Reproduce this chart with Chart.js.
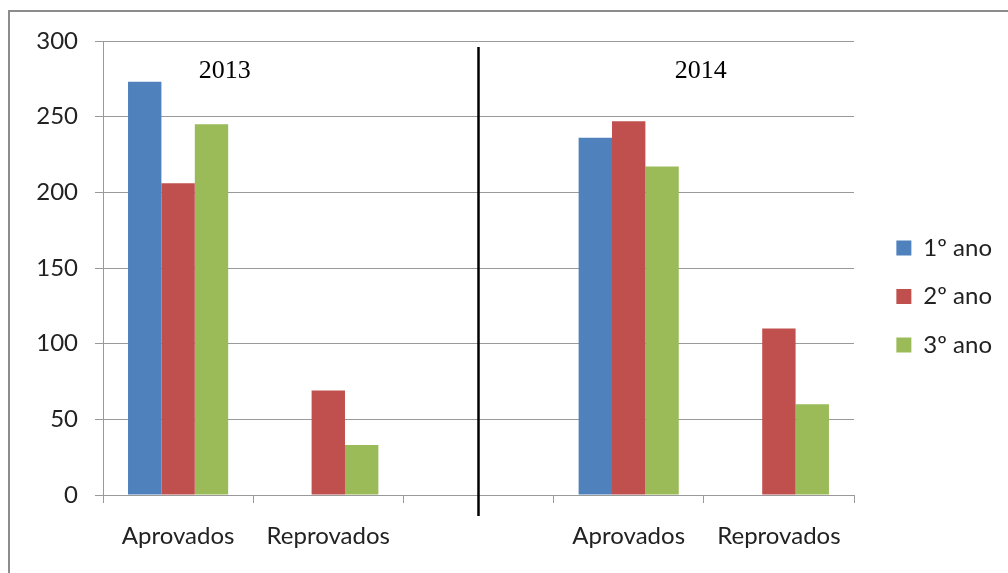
<!DOCTYPE html>
<html>
<head>
<meta charset="utf-8">
<script src="https://cdn.jsdelivr.net/npm/chart.js@4/dist/chart.umd.min.js"></script>
<style>
  html, body { margin: 0; padding: 0; background: #fff; overflow: hidden; }
  #wrap { position: relative; width: 1008px; height: 573px; overflow: hidden; }
  #frame { position: absolute; left: 8px; top: 10px; width: 1200px; height: 800px; border: 2px solid #8c8c8c; box-sizing: border-box; }
  canvas { position: absolute; left: 0; top: 0; }
</style>
</head>
<body>
<div id="wrap">
  <div id="frame"></div>
  <canvas id="c" width="1008" height="573"></canvas>
</div>
<script>
// ---- data ----
const categories = ['Aprovados', 'Reprovados', '', 'Aprovados', 'Reprovados'];
const seriesNames = ['1º ano', '2º ano', '3º ano'];
const ano1 = [273, 0, null, 236, 0];
const ano2 = [206, 69, null, 247, 110];
const ano3 = [245, 33, null, 217, 60];
const yTicks = [0, 50, 100, 150, 200, 250, 300];
const yearLabels = ['2013', '2014'];
const yearLabelPos = [0.31, 3.48];   // category-index positions of the year captions
const dividerIndex = 2;              // empty category holding the divider line

const colors = ['#4F81BD', '#C0504D', '#9BBB59'];
const gridColor = '#9a9a9a';
const labelFont = 'Lato, "Open Sans", sans-serif';

const annot = {
  id: 'annot',
  afterDatasetsDraw(chart) {
    const {ctx, scales: {x, y}} = chart;
    ctx.save();
    // divider
    const dx = Math.round(x.getPixelForValue(dividerIndex)) - 0.5;
    ctx.strokeStyle = '#000';
    ctx.lineWidth = 2.5;
    ctx.beginPath();
    ctx.moveTo(dx, y.getPixelForValue(296));
    ctx.lineTo(dx, y.bottom + 21);
    ctx.stroke();
    // year captions
    ctx.fillStyle = '#000';
    ctx.font = '26px "Liberation Serif", "Times New Roman", serif';
    ctx.textAlign = 'center';
    ctx.textBaseline = 'alphabetic';
    yearLabels.forEach((t, i) => {
      ctx.fillText(t, x.getPixelForValue(yearLabelPos[i]), y.getPixelForValue(275.5));
    });
    ctx.restore();
  }
};

new Chart(document.getElementById('c'), {
  type: 'bar',
  data: {
    labels: categories,
    datasets: [
      { label: seriesNames[0], data: ano1, backgroundColor: colors[0], borderWidth: 0 },
      { label: seriesNames[1], data: ano2, backgroundColor: colors[1], borderWidth: 0 },
      { label: seriesNames[2], data: ano3, backgroundColor: colors[2], borderWidth: 0 }
    ]
  },
  options: {
    responsive: false,
    animation: false,
    devicePixelRatio: 1,
    layout: { padding: { left: 0, right: 6, top: 41, bottom: 21 } },
    categoryPercentage: 0.6667,
    barPercentage: 1.0,
    plugins: {
      tooltip: { enabled: false },
      legend: {
        position: 'right',
        align: 'center',
        labels: {
          boxWidth: 15,
          boxHeight: 15,
          padding: 24.5,
          color: '#222',
          font: { family: labelFont, size: 24 }
        }
      }
    },
    scales: {
      x: {
        grid: { display: true, drawOnChartArea: false, drawTicks: true, tickLength: 8, color: gridColor, offset: true },
        border: { display: true, color: gridColor, width: 1 },
        ticks: { color: '#222', font: { family: labelFont, size: 24 }, padding: 19, maxRotation: 0, autoSkip: false },
        afterFit(scale) { scale.height = 57; }
      },
      y: {
        min: 0, max: 300,
        afterBuildTicks(scale) { scale.ticks = yTicks.map(v => ({ value: v })); },
        grid: { color: gridColor, tickLength: 8, drawTicks: true },
        border: { display: true, color: gridColor, width: 1 },
        ticks: { color: '#222', font: { family: labelFont, size: 24 }, padding: 17 },
        afterFit(scale) { scale.width = 103; }
      },
      yR: {
        position: 'right',
        display: true,
        grid: { display: false, drawTicks: false },
        border: { display: false },
        ticks: { display: false },
        afterFit(scale) {
          const ch = scale.chart;
          const legendW = ch.legend ? ch.legend.width : 0;
          scale.width = Math.max(0, ch.width - 6 - legendW - 854);
        }
      }
    }
  },
  plugins: [annot]
});
</script>
</body>
</html>
